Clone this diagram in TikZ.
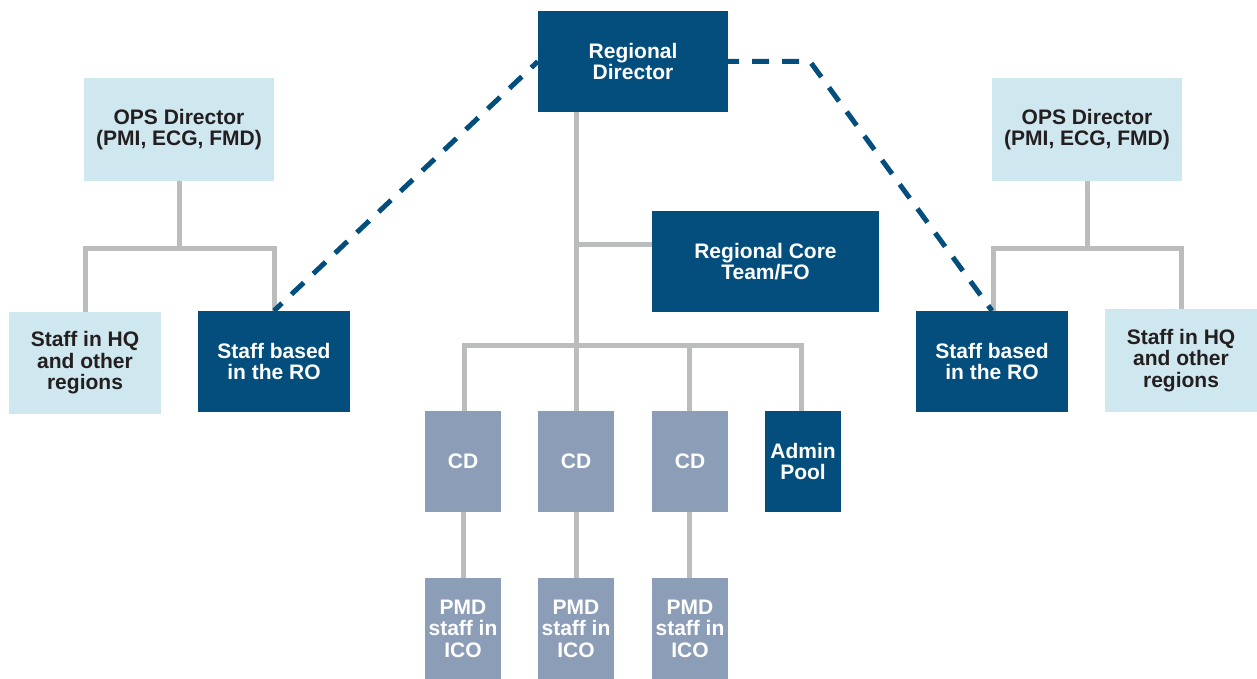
\documentclass[tikz,border=0pt]{standalone}
\usepackage{fontspec}
\setmainfont{Liberation Sans}
\definecolor{dblue}{HTML}{034E7C}
\definecolor{lblue}{HTML}{CFE7EE}
\definecolor{gblue}{HTML}{8C9EB7}
\definecolor{lgray}{HTML}{BABCBE}
\definecolor{tdark}{HTML}{231F20}
\begin{document}
\begin{tikzpicture}[x=1pt,y=-1pt,
  box/.style={rectangle,inner sep=0pt,align=center,font=\fontsize{21}{21.5}\selectfont\bfseries},
  darkbox/.style={box,fill=dblue,text=white},
  lightbox/.style={box,fill=lblue,text=tdark},
  cdbox/.style={box,fill=gblue,text=white},
  conn/.style={draw=lgray,line width=5pt,line join=miter},
  dashlink/.style={draw=dblue,line width=5pt,dash pattern=on 17pt off 13pt,dash phase=6pt}]
\useasboundingbox (0,0) rectangle (1257,679);

\coordinate (trunkTop) at (576,112);
\coordinate (coreJ) at (576,244);
\coordinate (brJ) at (576,345);
\coordinate (brL) at (464,345);
\coordinate (brR) at (801,345);
\coordinate (b3) at (689,345);
\coordinate (opsLJ) at (179,248);
\coordinate (opsLl) at (85,248);
\coordinate (opsLr) at (274,248);
\coordinate (opsRJ) at (1087,248);
\coordinate (opsRl) at (993,248);
\coordinate (opsRr) at (1181,248);
\coordinate (bend) at (810,61.5);

\node[darkbox,minimum width=190pt,minimum height=101pt] (RD) at (633,61.5) {Regional\\Director};
\node[lightbox,minimum width=190pt,minimum height=103pt] (OPSL) at (179,129.5) {OPS Director\\(PMI, ECG, FMD)};
\node[lightbox,minimum width=190pt,minimum height=103pt] (OPSR) at (1087,129.5) {OPS Director\\(PMI, ECG, FMD)};
\node[lightbox,minimum width=152pt,minimum height=102pt] (SHQL) at (85,363) {Staff in HQ\\and other\\regions};
\node[darkbox,minimum width=152pt,minimum height=101pt] (SROL) at (274,361.5) {Staff based\\in the RO};
\node[darkbox,minimum width=152pt,minimum height=101pt] (SROR) at (992,361.5) {Staff based\\in the RO};
\node[lightbox,minimum width=152pt,minimum height=103pt] (SHQR) at (1181,360.5) {Staff in HQ\\and other\\regions};
\node[darkbox,minimum width=227pt,minimum height=101pt] (CORE) at (765.5,261.5) {Regional Core\\Team/FO};
\node[cdbox,minimum width=76pt,minimum height=101pt] (CD1) at (463,461.5) {CD};
\node[cdbox,minimum width=76pt,minimum height=101pt] (CD2) at (576,461.5) {CD};
\node[cdbox,minimum width=76pt,minimum height=101pt] (CD3) at (690,461.5) {CD};
\node[darkbox,minimum width=76pt,minimum height=101pt] (ADM) at (803,461.5) {Admin\\Pool};
\node[cdbox,minimum width=76pt,minimum height=101pt] (PMD1) at (463,628.5) {PMD\\staff in\\ICO};
\node[cdbox,minimum width=76pt,minimum height=101pt] (PMD2) at (576,628.5) {PMD\\staff in\\ICO};
\node[cdbox,minimum width=76pt,minimum height=101pt] (PMD3) at (690,628.5) {PMD\\staff in\\ICO};

% gray connectors
\draw[conn] (RD.south -| trunkTop) -- (brJ);
\draw[conn] (coreJ) -- (CORE.west |- coreJ);
\draw[conn] (CD1.north -| brL) -- (brL) -- (brR) -- (ADM.north -| brR);
\draw[conn] (brJ) -- (CD2.north);
\draw[conn] (b3) -- (CD3.north -| b3);
\draw[conn] (CD1.south) -- (PMD1.north);
\draw[conn] (CD2.south) -- (PMD2.north);
\draw[conn] (CD3.south -| b3) -- (PMD3.north -| b3);
\draw[conn] (OPSL.south) -- (opsLJ);
\draw[conn] (SHQL.north) -- (opsLl) -- (opsLr) -- (SROL.north);
\draw[conn] (OPSR.south) -- (opsRJ);
\draw[conn] (SROR.north -| opsRl) -- (opsRl) -- (opsRr) -- (SHQR.north);
% dashed links
\draw[dashlink] (SROL.north) -- (RD.west);
\draw[dashlink] (RD.east) -- (bend) -- (SROR.north);
\end{tikzpicture}
\end{document}
